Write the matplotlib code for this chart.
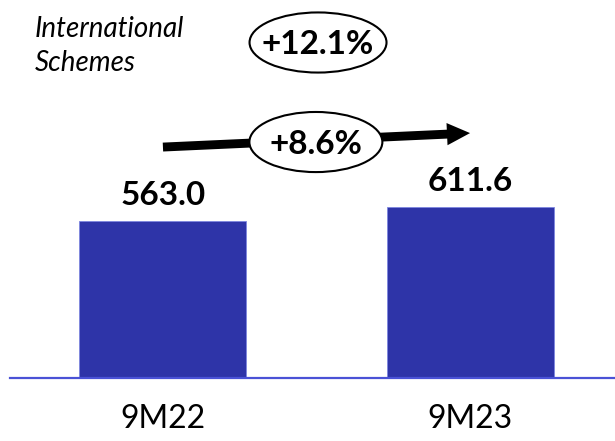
import matplotlib
matplotlib.use("Agg")
import matplotlib.pyplot as plt
from matplotlib.patches import Ellipse

# data
periods = ["9M22", "9M23"]
values = [563.0, 611.6]
value_labels = ["563.0", "611.6"]
growth_period = "+8.6%"
growth_total = "+12.1%"
title = "International\nSchemes"

bar_color = "#2E34A8"
line_color = "#4A52D6"

plt.rcParams['font.family'] = ['Lato', 'DejaVu Sans']

fig = plt.figure(figsize=(6.15, 4.41), dpi=100)
ax = fig.add_axes([10 / 615, 63 / 441, 1 - 10 / 615, 1 - 63 / 441])

x = list(range(len(periods)))
ax.bar(x, values, width=0.544, color=bar_color, edgecolor="#7E86E0", linewidth=0.6)

for xi, v, lab in zip(x, values, value_labels):
    ax.annotate(lab, (xi, v), xytext=(0, 11.3), textcoords="offset points",
                ha="center", va="baseline", fontsize=24, fontweight="bold")

ax.set_xlim(-0.498, 1.472)
ax.set_ylim(0, 1352)
ax.set_xticks(x)
ax.set_xticklabels(periods, fontsize=23)
ax.tick_params(axis="x", length=0, pad=19)
ax.set_yticks([])
for s in ["top", "left", "right"]:
    ax.spines[s].set_visible(False)
ax.spines["bottom"].set_color(line_color)
ax.spines["bottom"].set_linewidth(1.6)

# growth arrow between the bars
ax.annotate("", xy=(1, 876), xytext=(0, 826),
            arrowprops=dict(arrowstyle="simple,head_width=0.8,head_length=0.83,tail_width=0.32",
                            mutation_scale=20, fc="black", ec="none",
                            shrinkA=0, shrinkB=0))
ax.add_patch(Ellipse((0.498, 844), 0.433, 215, facecolor="white",
                     edgecolor="black", linewidth=1.5, zorder=3))
ax.text(0.498, 844, growth_period, ha="center", va="center_baseline",
        fontsize=24, fontweight="bold", zorder=4)

ax.add_patch(Ellipse((0.505, 1200), 0.446, 215, facecolor="white",
                     edgecolor="black", linewidth=1.5, zorder=3, clip_on=False))
ax.text(0.505, 1200, growth_total, ha="center", va="center_baseline",
        fontsize=24, fontweight="bold", zorder=4)

fig.text(35 / 615, 1 - 16 / 441, title, ha="left", va="top", fontsize=20,
         style="italic", linespacing=1.36)

fig.savefig("out.png", dpi=100)
